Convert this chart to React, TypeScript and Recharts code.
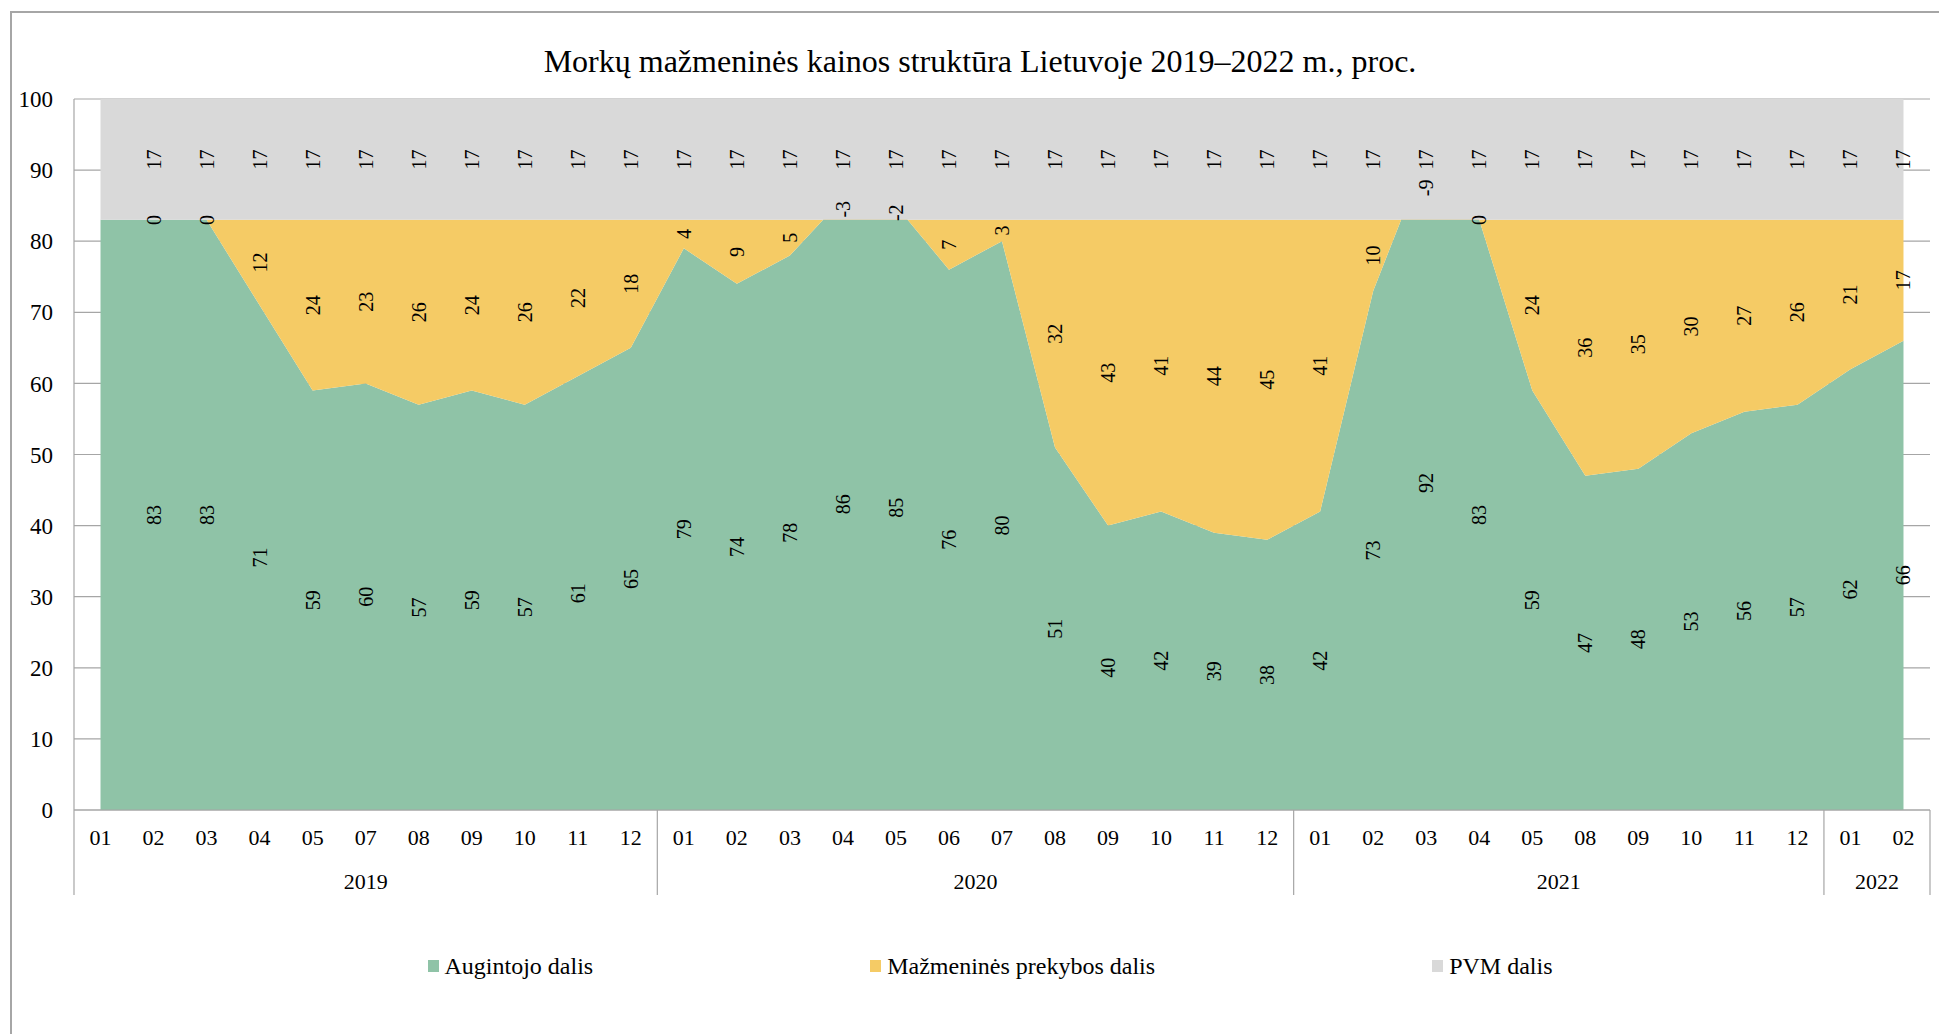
import { Area, CartesianGrid, ComposedChart, LabelList, Line, XAxis, YAxis } from "recharts";

const TITLE = "Morkų mažmeninės kainos struktūra Lietuvoje 2019–2022 m., proc.";

const years = ["2019", "2020", "2021", "2022"];
const months2019 = ["01", "02", "03", "04", "05", "07", "08", "09", "10", "11", "12"];
const months2020 = ["01", "02", "03", "04", "05", "06", "07", "08", "09", "10", "11", "12"];
const months2021 = ["01", "02", "03", "04", "05", "08", "09", "10", "11", "12"];
const months2022 = ["01", "02"];

const growerShare = [
  83, 83, 83, 71, 59, 60, 57, 59, 57, 61, 65,
  79, 74, 78, 86, 85, 76, 80, 51, 40, 42, 39, 38,
  42, 73, 92, 83, 59, 47, 48, 53, 56, 57,
  62, 66,
];
const retailShare = [
  0, 0, 0, 12, 24, 23, 26, 24, 26, 22, 18,
  4, 9, 5, -3, -2, 7, 3, 32, 43, 41, 44, 45,
  41, 10, -9, 0, 24, 36, 35, 30, 27, 26,
  21, 17,
];
const vatShare = [
  17, 17, 17, 17, 17, 17, 17, 17, 17, 17, 17,
  17, 17, 17, 17, 17, 17, 17, 17, 17, 17, 17, 17,
  17, 17, 17, 17, 17, 17, 17, 17, 17, 17,
  17, 17,
];

const yTicks = [0, 10, 20, 30, 40, 50, 60, 70, 80, 90, 100];
// the first month has no data labels in the original
const hiddenLabels = [0];

const series = [
  { key: "grower", name: "Augintojo dalis", color: "#8FC3A7" },
  { key: "retail", name: "Mažmeninės prekybos dalis", color: "#F5CB65" },
  { key: "vat", name: "PVM dalis", color: "#D9D9D9" },
];

const monthGroups = [months2019, months2020, months2021, months2022];

const data = monthGroups.flatMap((months, g) =>
  months.map((m) => ({ cat: `${years[g]}-${m}`, month: m, year: years[g] }))
).map((row, i) => ({
  ...row,
  grower: growerShare[i],
  retail: retailShare[i],
  vat: vatShare[i],
  growerMid: growerShare[i] / 2,
  retailMid: growerShare[i] + retailShare[i] / 2,
  vatMid: growerShare[i] + retailShare[i] + vatShare[i] / 2,
}));

const W = 1939;
const H = 1034;
const PLOT_LEFT = 74;
const PLOT_RIGHT = 1930;
const PLOT_TOP = 99;
const PLOT_BOTTOM = 810;
const X_AXIS_H = 110;
const Y_AXIS_W = 60;
const BAND = (PLOT_RIGHT - PLOT_LEFT) / data.length;
const GRID = "#a6a6a6";
const FONT = "'Liberation Serif', 'Times New Roman', serif";

const groupStart: Record<number, number> = {};
let acc = 0;
monthGroups.forEach((months) => {
  groupStart[acc] = months.length;
  acc += months.length;
});

function MonthTick(props: any) {
  const { x, y, payload, index } = props;
  const row = data[index];
  const half = BAND / 2;
  const len = groupStart[index];
  return (
    <g>
      <text x={x} y={y + 35} textAnchor="middle" fontSize={22} fill="#000" fontFamily={FONT}>
        {row ? row.month : payload.value}
      </text>
      {len !== undefined && (
        <>
          <line x1={x - half} x2={x - half} y1={y} y2={y + 85} stroke={GRID} strokeWidth={1.2} />
          <text
            x={x - half + (len * BAND) / 2}
            y={y + 79}
            textAnchor="middle"
            fontSize={22}
            fill="#000"
            fontFamily={FONT}
          >
            {row.year}
          </text>
        </>
      )}
      {index === data.length - 1 && (
        <line x1={x + half} x2={x + half} y1={y} y2={y + 85} stroke={GRID} strokeWidth={1.2} />
      )}
    </g>
  );
}

function ShareLabel(props: any) {
  const { x, y, value, index } = props;
  if (hiddenLabels.includes(index) || x == null || y == null) return null;
  return (
    <text
      x={x}
      y={y}
      dy="0.35em"
      textAnchor="middle"
      fontSize={20}
      fill="#000"
      fontFamily={FONT}
      transform={`rotate(-90, ${x}, ${y})`}
    >
      {value}
    </text>
  );
}

export default function App() {
  return (
    <div
      style={{
        position: "relative",
        width: W,
        height: H,
        overflow: "hidden",
        background: "#fff",
        fontFamily: FONT,
      }}
    >
      <style>{"body{margin:0}"}</style>
      <div
        style={{
          position: "absolute",
          left: 10,
          top: 11,
          width: 2100,
          height: 1200,
          border: `2px solid ${GRID}`,
          boxSizing: "border-box",
        }}
      />
      <div
        style={{
          position: "absolute",
          left: 0,
          top: 45,
          width: 1960,
          textAlign: "center",
          fontSize: 32,
          lineHeight: "32px",
          color: "#000",
        }}
      >
        {TITLE}
      </div>
      <div style={{ position: "absolute", left: 0, top: 0 }}>
        <ComposedChart
          width={W}
          height={H}
          data={data}
          margin={{
            top: PLOT_TOP,
            right: W - PLOT_RIGHT,
            bottom: H - PLOT_BOTTOM - X_AXIS_H,
            left: PLOT_LEFT - Y_AXIS_W,
          }}
        >
          <CartesianGrid vertical={false} stroke={GRID} strokeWidth={1.2} />
          <XAxis
            dataKey="cat"
            interval={0}
            height={X_AXIS_H}
            tickLine={false}
            tickSize={0}
            tickMargin={0}
            axisLine={{ stroke: GRID, strokeWidth: 1.2 }}
            padding={{ left: BAND / 2, right: BAND / 2 }}
            tick={<MonthTick />}
          />
          <YAxis
            width={Y_AXIS_W}
            domain={[0, 100]}
            ticks={yTicks}
            allowDataOverflow
            tickLine={false}
            tickSize={0}
            tickMargin={21}
            axisLine={{ stroke: GRID, strokeWidth: 1.2 }}
            tick={{ fontSize: 23, fill: "#000", fontFamily: FONT }}
          />
          {series.map((s) => (
            <Area
              key={s.key}
              type="linear"
              dataKey={s.key}
              name={s.name}
              stackId="price"
              stroke="none"
              fill={s.color}
              fillOpacity={1}
              isAnimationActive={false}
              activeDot={false}
            />
          ))}
          {series.map((s) => (
            <Line
              key={s.key + "Mid"}
              type="linear"
              dataKey={s.key + "Mid"}
              stroke="none"
              dot={false}
              activeDot={false}
              legendType="none"
              isAnimationActive={false}
            >
              <LabelList dataKey={s.key} content={<ShareLabel />} />
            </Line>
          ))}
        </ComposedChart>
      </div>
      <div
        style={{
          position: "absolute",
          left: 0,
          top: 954,
          width: 1980,
          display: "flex",
          justifyContent: "center",
          gap: 277,
          fontSize: 24,
          lineHeight: "24px",
          color: "#000",
          fontFamily: FONT,
        }}
      >
        {series.map((s) => (
          <div key={s.key} style={{ display: "flex", alignItems: "center" }}>
            <span
              style={{ display: "inline-block", width: 11, height: 12, background: s.color, marginRight: 6 }}
            />
            <span>{s.name}</span>
          </div>
        ))}
      </div>
    </div>
  );
}
